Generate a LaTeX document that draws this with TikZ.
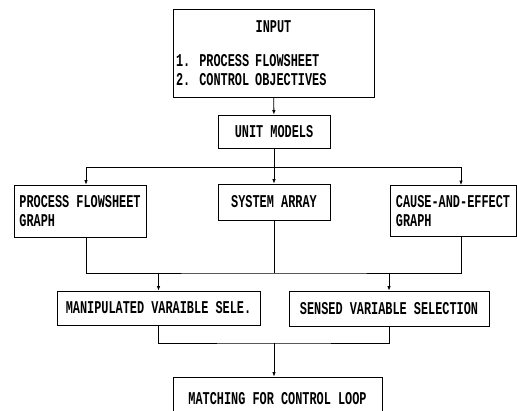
\documentclass[tikz,border=0pt]{standalone}
\usepackage{fontspec}
\usetikzlibrary{arrows.meta,positioning}
\newfontfamily\chartfont[FakeStretch=0.66]{Liberation Mono}

\begin{document}
\begin{tikzpicture}[x=1pt,y=-1pt,line width=0.8pt,>={Latex[length=4.5pt,width=3.5pt]},
 b/.style={draw,inner sep=0pt,font=\chartfont\bfseries\fontsize{18}{19}\selectfont},
 bl/.style={b,align=left}]
\useasboundingbox (0,0) rectangle (517,410);
\node[b,minimum width=201pt,minimum height=88pt,text width=195pt,align=left] (input) at (273.5,53)
 {\makebox[195pt]{INPUT}\\[15pt]1. PROCESS FLOWSHEET\\2. CONTROL OBJECTIVES};
\node[b,minimum width=112pt,minimum height=33pt] (unit) at (274,131.5) {UNIT MODELS};
\node[bl,minimum width=132pt,minimum height=52pt] (pfg) at (80,211) {PROCESS FLOWSHEET\\GRAPH};
\node[b,minimum width=112pt,minimum height=36pt] (sa) at (274,202) {SYSTEM ARRAY};
\node[bl,minimum width=126pt,minimum height=51pt] (cae) at (453,211) {CAUSE-AND-EFFECT\\GRAPH};
\node[b,minimum width=203pt,minimum height=34pt] (manip) at (158.5,308) {MANIPULATED VARAIBLE SELE.};
\node[b,minimum width=200pt,minimum height=35pt] (sensed) at (389,308.5) {SENSED VARIABLE SELECTION};
\node[b,minimum width=209pt,minimum height=44pt] (match) at (277.5,399) {MATCHING FOR CONTROL LOOP};
\coordinate (split) at (274,167);
\coordinate (join) at (274,273);
\coordinate (merge) at (274,343);
\draw[->] (input) -- (unit);
\draw (unit) -- (split);
\draw[->] (split) -| ([xshift=6pt]pfg.north);
\draw[->] (split) -- (sa);
\draw[->] (split) -| ([xshift=8pt]cae.north);
\draw ([xshift=6pt]pfg.south) |- (join) -| ([xshift=8pt]cae.south);
\draw (sa) -- (join);
\draw[->] (manip.north |- join) -- (manip);
\draw[->] (sensed.north |- join) -- (sensed);
\draw (manip) |- (merge) -| (sensed);
\draw[->] (merge) -- (merge |- match.north);
\end{tikzpicture}
\end{document}
